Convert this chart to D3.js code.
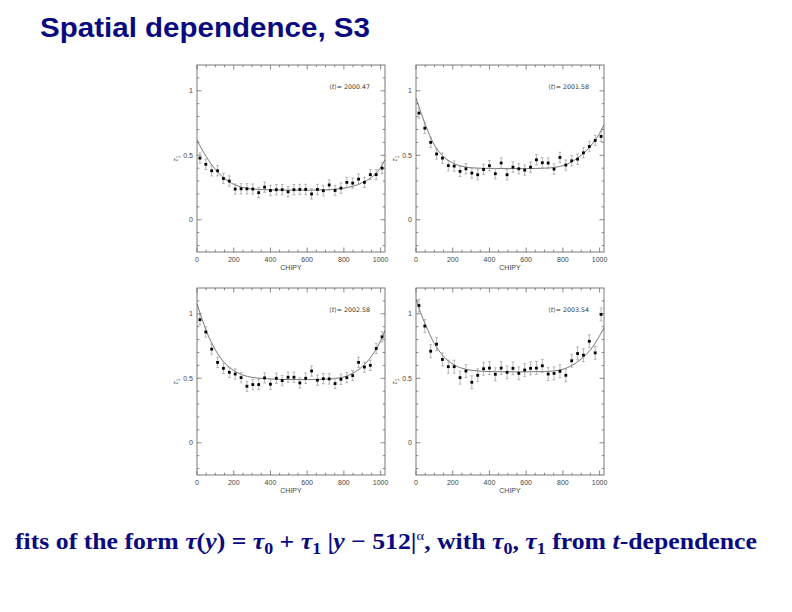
<!DOCTYPE html>
<html><head><meta charset="utf-8">
<script src="https://cdn.jsdelivr.net/npm/d3@7"></script>
<style>body{margin:0;background:#fff;} svg{display:block}</style>
</head><body>
<svg id="chart" width="792" height="612"></svg>
<script>
// ---------- data ----------
const chipy = [16,48,80,112,144,176,208,240,272,304,336,368,400,432,464,496,528,560,592,624,656,688,720,752,784,816,848,880,912,944,976,1008];
const epochs = ["2000.47","2001.58","2002.58","2003.54"];
const tau2000 = [0.478,0.43,0.38,0.38,0.32,0.30,0.238,0.24,0.24,0.238,0.21,0.253,0.227,0.233,0.233,0.217,0.233,0.235,0.235,0.20,0.235,0.225,0.27,0.227,0.245,0.29,0.284,0.315,0.29,0.35,0.35,0.40];
const tau2001 = [0.827,0.71,0.60,0.51,0.478,0.42,0.416,0.375,0.395,0.362,0.349,0.39,0.419,0.357,0.44,0.349,0.408,0.395,0.385,0.408,0.465,0.442,0.44,0.393,0.483,0.424,0.457,0.47,0.519,0.568,0.615,0.646];
const tau2002 = [0.954,0.859,0.726,0.623,0.577,0.546,0.533,0.505,0.438,0.451,0.451,0.503,0.454,0.50,0.482,0.508,0.508,0.464,0.50,0.556,0.485,0.497,0.495,0.459,0.492,0.505,0.521,0.623,0.587,0.60,0.731,0.821];
const tau2003 = [1.064,0.905,0.71,0.764,0.646,0.59,0.59,0.505,0.556,0.469,0.523,0.574,0.579,0.531,0.579,0.546,0.577,0.538,0.564,0.577,0.579,0.597,0.533,0.538,0.554,0.523,0.636,0.692,0.679,0.787,0.697,0.995];
const errs = [0.04, 0.04, 0.04, 0.05];
const fitX = [0,25,50,100,150,200,250,300,400,500,600,700,750,800,850,900,950,1000,1024];
const fit2000 = [0.62,0.55,0.49,0.39,0.32,0.275,0.25,0.238,0.232,0.23,0.23,0.232,0.237,0.245,0.26,0.288,0.328,0.405,0.467];
const fit2001 = [0.943,0.84,0.74,0.58,0.49,0.44,0.415,0.403,0.398,0.397,0.397,0.40,0.405,0.42,0.45,0.50,0.57,0.67,0.736];
const fit2002 = [1.077,0.97,0.87,0.72,0.62,0.56,0.525,0.507,0.495,0.49,0.49,0.493,0.498,0.51,0.54,0.59,0.67,0.79,0.872];
const fit2003 = [1.115,1.01,0.92,0.77,0.67,0.61,0.578,0.562,0.552,0.55,0.55,0.552,0.557,0.57,0.60,0.65,0.72,0.83,0.89];
const xMajor = [0,200,400,600,800,1000];
const xMinor = [50,100,150,250,300,350,450,500,550,650,700,750,850,900,950];
const yMajor = [0,0.5,1];
const yMinor = [-0.2,-0.1,0.1,0.2,0.3,0.4,0.6,0.7,0.8,0.9,1.1];
const xDomain = [0,1024];
const yDomain = [-0.25,1.2];
const xTitle = "CHIPY";

const taus = [tau2000,tau2001,tau2002,tau2003];
const fits = [fit2000,fit2001,fit2002,fit2003];

// ---------- layout ----------
const svg = d3.select("#chart");
const navy = "#0a0a80";
const frameCol = "#6a6a6a";
const W = 188, H = 187;
const origins = [[197,65],[416,65],[197,288],[416,288]];

svg.append("text").attr("x",40).attr("y",37)
  .attr("font-family","Liberation Sans, Arial, sans-serif").attr("font-weight","bold")
  .attr("font-size",27).attr("fill",navy)
  .attr("textLength",330).attr("lengthAdjust","spacingAndGlyphs")
  .text("Spatial dependence, S3");

origins.forEach(([L,T],i)=>{
  const x = d3.scaleLinear().domain(xDomain).range([L,L+W]);
  const y = d3.scaleLinear().domain(yDomain).range([T+H,T]);
  const g = svg.append("g");
  const clipId = "clip"+i;
  g.append("clipPath").attr("id",clipId).append("rect").attr("x",L).attr("y",T).attr("width",W).attr("height",H);

  // ticks
  const tk = g.append("g").attr("stroke",frameCol).attr("stroke-width",0.8);
  xMajor.forEach(v=>{
    tk.append("line").attr("x1",x(v)).attr("x2",x(v)).attr("y1",T+H).attr("y2",T+H-4.5);
    tk.append("line").attr("x1",x(v)).attr("x2",x(v)).attr("y1",T).attr("y2",T+4.5);
  });
  xMinor.forEach(v=>{
    tk.append("line").attr("x1",x(v)).attr("x2",x(v)).attr("y1",T+H).attr("y2",T+H-2.3);
    tk.append("line").attr("x1",x(v)).attr("x2",x(v)).attr("y1",T).attr("y2",T+2.3);
  });
  yMajor.forEach(v=>{
    tk.append("line").attr("x1",L).attr("x2",L+4.5).attr("y1",y(v)).attr("y2",y(v));
    tk.append("line").attr("x1",L+W).attr("x2",L+W-4.5).attr("y1",y(v)).attr("y2",y(v));
  });
  yMinor.forEach(v=>{
    tk.append("line").attr("x1",L).attr("x2",L+2.3).attr("y1",y(v)).attr("y2",y(v));
    tk.append("line").attr("x1",L+W).attr("x2",L+W-2.3).attr("y1",y(v)).attr("y2",y(v));
  });
  g.append("rect").attr("x",L).attr("y",T).attr("width",W).attr("height",H)
    .attr("fill","none").attr("stroke",frameCol).attr("stroke-width",0.9);

  // tick labels
  const lab = g.append("g").attr("font-family","Liberation Sans, Arial, sans-serif")
    .attr("font-size",7).attr("fill","#444");
  xMajor.forEach(v=>{
    lab.append("text").attr("x",x(v)).attr("y",T+H+9.5).attr("text-anchor","middle").text(v);
  });
  yMajor.forEach(v=>{
    lab.append("text").attr("x",L-4).attr("y",y(v)+2.5).attr("text-anchor","end").text(v);
  });
  lab.append("text").attr("x",L+W/2).attr("y",T+H+17.5).attr("text-anchor","middle").text(xTitle);
  const yl = lab.append("text").attr("transform",`translate(${L-19},${T+H/2}) rotate(-90)`)
    .attr("text-anchor","middle").attr("font-size",8);
  yl.append("tspan").attr("font-style","italic").text("τ");
  yl.append("tspan").attr("dy",2).attr("font-size",5.5).text("1");

  // annotation
  const an = g.append("text").attr("x",L+W-15).attr("y",T+23.5).attr("text-anchor","end")
    .attr("font-family","DejaVu Sans, sans-serif").attr("font-size",6.3).attr("fill","#333");
  an.append("tspan").text("⟨");
  an.append("tspan").attr("font-style","italic").text("t");
  an.append("tspan").text("⟩= "+epochs[i]);

  // fit curve
  const line = d3.line().x(d=>x(d[0])).y(d=>y(d[1])).curve(d3.curveMonotoneX);
  g.append("path").attr("clip-path",`url(#${clipId})`)
    .attr("d",line(fitX.map((v,j)=>[v,fits[i][j]])))
    .attr("fill","none").attr("stroke","#555").attr("stroke-width",0.8);

  // error bars
  const e = errs[i];
  const eb = g.append("g").attr("stroke","#9a9a9a").attr("stroke-width",0.7);
  chipy.forEach((c,j)=>{
    const v = taus[i][j];
    eb.append("line").attr("x1",x(c)).attr("x2",x(c)).attr("y1",y(v-e)).attr("y2",y(v+e));
    eb.append("line").attr("x1",x(c)-1.4).attr("x2",x(c)+1.4).attr("y1",y(v-e)).attr("y2",y(v-e));
    eb.append("line").attr("x1",x(c)-1.4).attr("x2",x(c)+1.4).attr("y1",y(v+e)).attr("y2",y(v+e));
  });
  // points
  g.append("g").selectAll("rect").data(chipy).join("rect")
    .attr("x",(c)=>x(c)-1.4).attr("y",(c,j)=>y(taus[i][j])-1.4)
    .attr("width",2.8).attr("height",2.8).attr("fill","#000");
});

// bottom formula
const parts = [
  ["fits of the form ",""],["τ","it"],["(",""],["y","it"],[") = ",""],["τ","it"],["0","sub"],[" + ",""],
  ["τ","it"],["1","sub"],[" |",""],["y","it"],[" − 512|",""],["α","sup"],[", with ",""],["τ","it"],["0","sub"],
  [", ",""],["τ","it"],["1","sub"],[" from ",""],["t","it"],["-dependence",""]
];
const ft = svg.append("text").attr("transform","translate(15,549) scale(1.12,1)")
  .attr("font-family","Liberation Serif, Times New Roman, serif").attr("font-weight","bold")
  .attr("font-size",23).attr("fill",navy);
let shift = 0;
parts.forEach(([s,k])=>{
  const t = ft.append("tspan").text(s);
  let target = 0;
  if(k==="it") t.attr("font-style","italic");
  if(k==="sub"){ target = 5; t.attr("font-size",16); }
  if(k==="sup"){ target = -9; t.attr("font-size",13).attr("font-weight","normal"); }
  if(target!==shift){ t.attr("dy",target-shift); shift = target; }
});
</script>
</body></html>
